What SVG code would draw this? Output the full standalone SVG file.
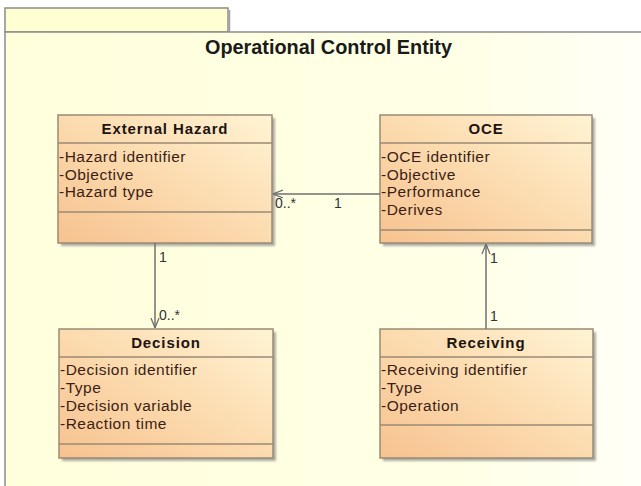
<svg xmlns="http://www.w3.org/2000/svg" width="641" height="486" viewBox="0 0 641 486">
<defs>
<linearGradient id="pkgBg" x1="0" y1="0" x2="1" y2="0">
<stop offset="0" stop-color="#FFFFDC"/>
<stop offset="0.7" stop-color="#FFFFE6"/>
<stop offset="1" stop-color="#FFFFF8"/>
</linearGradient>
<linearGradient id="boxBg" x1="0" y1="1" x2="1" y2="0">
<stop offset="0" stop-color="#F7C28F"/>
<stop offset="0.55" stop-color="#FCDDB2"/>
<stop offset="1" stop-color="#FFF4D4"/>
</linearGradient>
<filter id="shadow" x="-10%" y="-10%" width="130%" height="130%">
<feGaussianBlur stdDeviation="1.2"/>
</filter>
<marker id="open" viewBox="0 0 10 10" refX="10" refY="5" markerWidth="10" markerHeight="10" markerUnits="userSpaceOnUse" orient="auto">
<path d="M0,1 L10,5 L0,9" fill="none" stroke="#6e6e6e" stroke-width="1.3"/>
</marker>
<style>
.pkg{fill:url(#pkgBg);stroke:#8c8c8c;stroke-width:1.5}
.tab{fill:#FFFFD2;stroke:#8c8c8c;stroke-width:1.5}
.box{fill:url(#boxBg);stroke:#9a8a74;stroke-width:1.5}
.shd{fill:#8a8a8a;opacity:0.7;filter:url(#shadow)}
.sep{stroke:#9a8a74;stroke-width:1.5}
.ttl{font-family:"Liberation Sans",Arial,sans-serif;font-weight:bold;font-size:15px;letter-spacing:0.9px;fill:#1e1410;text-anchor:middle}
.att{font-family:"Liberation Sans",Arial,sans-serif;font-size:15.5px;letter-spacing:0.5px;fill:#3a1e16}
.mul{font-family:"Liberation Sans",Arial,sans-serif;font-size:14px;fill:#333}
.pkgname{font-family:"Liberation Sans",Arial,sans-serif;font-weight:bold;font-size:20px;fill:#1a1a1a;text-anchor:middle}
.con{stroke:#707070;stroke-width:1.5;fill:none}
</style>
</defs>

<g id="package">
<rect class="tab" x="5" y="8" width="223" height="24"/>
<line x1="229.5" y1="10" x2="229.5" y2="32" stroke="#a0a0a0" stroke-width="1.5"/>
<rect class="pkg" x="5" y="32" width="645" height="465"/>
<text class="pkgname" x="328.5" y="54" textLength="247" lengthAdjust="spacingAndGlyphs">Operational Control Entity</text>
</g>

<g id="external-hazard">
<rect class="shd" x="61" y="118" width="214" height="128"/>
<rect class="box" x="58" y="115" width="214" height="128"/>
<line class="sep" x1="58" y1="143" x2="272" y2="143"/>
<line class="sep" x1="58" y1="212" x2="272" y2="212"/>
<text class="ttl" x="165" y="134">External Hazard</text>
<text class="att" x="59" y="162">-Hazard identifier</text>
<text class="att" x="59" y="180">-Objective</text>
<text class="att" x="59" y="197">-Hazard type</text>
</g>

<g id="oce">
<rect class="shd" x="383" y="118" width="212" height="128"/>
<rect class="box" x="380" y="115" width="212" height="128"/>
<line class="sep" x1="380" y1="143" x2="592" y2="143"/>
<line class="sep" x1="380" y1="230" x2="592" y2="230"/>
<text class="ttl" x="486" y="134">OCE</text>
<text class="att" x="381" y="162">-OCE identifier</text>
<text class="att" x="381" y="180">-Objective</text>
<text class="att" x="381" y="197">-Performance</text>
<text class="att" x="381" y="215">-Derives</text>
</g>

<g id="decision">
<rect class="shd" x="62" y="332" width="214" height="129"/>
<rect class="box" x="59" y="329" width="214" height="129"/>
<line class="sep" x1="59" y1="357" x2="273" y2="357"/>
<line class="sep" x1="59" y1="444" x2="273" y2="444"/>
<text class="ttl" x="166" y="348">Decision</text>
<text class="att" x="60" y="375">-Decision identifier</text>
<text class="att" x="60" y="393">-Type</text>
<text class="att" x="60" y="411">-Decision variable</text>
<text class="att" x="60" y="429">-Reaction time</text>
</g>

<g id="receiving">
<rect class="shd" x="383" y="332" width="213" height="129"/>
<rect class="box" x="380" y="329" width="213" height="129"/>
<line class="sep" x1="380" y1="357" x2="593" y2="357"/>
<line class="sep" x1="380" y1="425" x2="593" y2="425"/>
<text class="ttl" x="486" y="348">Receiving</text>
<text class="att" x="381" y="375">-Receiving identifier</text>
<text class="att" x="381" y="393">-Type</text>
<text class="att" x="381" y="411">-Operation</text>
</g>

<g id="connectors">
<line class="con" x1="380" y1="194" x2="273" y2="194" marker-end="url(#open)"/>
<text class="mul" x="275" y="208">0..*</text>
<text class="mul" x="334" y="208">1</text>
<line class="con" x1="155" y1="243" x2="155" y2="328" marker-end="url(#open)"/>
<text class="mul" x="159" y="262">1</text>
<text class="mul" x="159" y="320">0..*</text>
<line class="con" x1="486" y1="329" x2="486" y2="244" marker-end="url(#open)"/>
<text class="mul" x="490" y="263">1</text>
<text class="mul" x="490" y="321">1</text>
</g>
</svg>
